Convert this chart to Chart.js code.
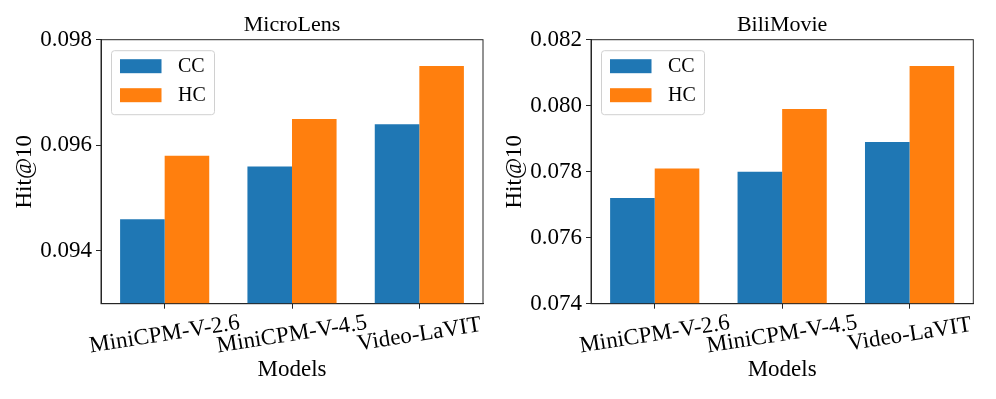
<!DOCTYPE html>
<html>
<head>
<meta charset="utf-8">
<script src="https://cdn.jsdelivr.net/npm/chart.js@4.4.0/dist/chart.umd.min.js"></script>
<style>
  html, body { margin: 0; padding: 0; background: #fff; }
  #wrap { position: relative; width: 996px; height: 399px; }
  canvas { position: absolute; top: 0; }
  #left { left: 0; }
  #right { left: 490px; }
</style>
</head>
<body>
<div id="wrap">
  <canvas id="left" width="490" height="399"></canvas>
  <canvas id="right" width="506" height="399"></canvas>
</div>
<script>
const models = ['MiniCPM-V-2.6', 'MiniCPM-V-4.5', 'Video-LaVIT'];

const microCC = [0.0946, 0.0956, 0.0964];
const microHC = [0.0958, 0.0965, 0.0975];
const microTicks = [0.094, 0.096, 0.098];
const microRange = [0.093, 0.098];

const biliCC = [0.0772, 0.0780, 0.0789];
const biliHC = [0.0781, 0.0799, 0.0812];
const biliTicks = [0.074, 0.076, 0.078, 0.080, 0.082];
const biliRange = [0.074, 0.082];

const serif = "'Liberation Serif', 'Times New Roman', serif";
const frameColor = '#262626';
Chart.defaults.font.family = serif;
Chart.defaults.color = '#000';

// title, frame, rotated x labels and legend box, drawn on top
const extras = {
    id: 'extras',
    afterDraw(chart, args, opts) {
        const ctx = chart.ctx;
        const a = chart.chartArea;
        const xs = chart.scales.x;
        ctx.save();
        ctx.strokeStyle = frameColor;
        ctx.lineWidth = 1;
        ctx.strokeRect(a.left, a.top, a.right - a.left, a.bottom - a.top);

        ctx.fillStyle = '#000';
        ctx.textAlign = 'center';
        ctx.textBaseline = 'middle';
        ctx.font = '22px ' + serif;
        ctx.fillText(opts.title, (a.left + a.right) / 2, 25);

        ctx.font = '23px ' + serif;
        chart.data.labels.forEach((lab, i) => {
            const px = xs.getPixelForTick(i);
            ctx.save();
            ctx.translate(px, a.bottom + 31);
            ctx.rotate(-9 * Math.PI / 180);
            ctx.fillText(lab, 0, 0);
            ctx.restore();
        });

        const lx = a.left + 10.5, ly = a.top + 11;
        ctx.beginPath();
        ctx.roundRect(lx, ly, 103, 64, 3);
        ctx.fillStyle = 'rgba(255,255,255,0.8)';
        ctx.fill();
        ctx.strokeStyle = '#d0d0d0';
        ctx.stroke();
        ctx.font = '20px ' + serif;
        chart.data.datasets.forEach((ds, i) => {
            const cy = ly + 15.5 + i * 29;
            ctx.fillStyle = ds.backgroundColor;
            ctx.fillRect(lx + 8.5, cy - 7, 41.5, 14);
            ctx.fillStyle = '#000';
            ctx.textAlign = 'left';
            ctx.fillText(ds.label, lx + 66.5, cy + 1);
        });
        ctx.restore();
    }
};

function makeChart(id, title, cc, hc, ticks, range, padRight) {
    const ctx = document.getElementById(id).getContext('2d');
    return new Chart(ctx, {
        type: 'bar',
        data: {
            labels: models,
            datasets: [
                { label: 'CC', data: cc, backgroundColor: '#1f77b4' },
                { label: 'HC', data: hc, backgroundColor: '#ff7f0e' }
            ]
        },
        options: {
            responsive: false,
            animation: false,
            devicePixelRatio: 1,
            layout: { padding: { left: 0, right: padRight, top: 39.7, bottom: 0 } },
            datasets: { bar: { categoryPercentage: 0.7, barPercentage: 1.0 } },
            plugins: {
                legend: { display: false },
                tooltip: { enabled: false },
                title: { display: false },
                extras: { title: title }
            },
            scales: {
                x: {
                    type: 'category',
                    offset: true,
                    grid: { display: true, offset: false, drawOnChartArea: false, drawTicks: true, tickLength: 5, color: frameColor },
                    border: { color: frameColor },
                    ticks: { display: false },
                    title: {
                        display: true,
                        text: 'Models',
                        color: '#000',
                        font: { size: 23 },
                        padding: { top: 0, bottom: 15 }
                    },
                    afterFit: s => { s.height = 95.3; }
                },
                y: {
                    min: range[0],
                    max: range[1],
                    afterBuildTicks: s => { s.ticks = ticks.map(v => ({ value: v })); },
                    grid: { drawOnChartArea: false, drawTicks: true, tickLength: 5, color: frameColor },
                    border: { color: frameColor },
                    ticks: {
                        color: '#000',
                        font: { size: 23 },
                        padding: 4,
                        callback: v => v.toFixed(3)
                    },
                    title: {
                        display: true,
                        text: 'Hit@10',
                        color: '#000',
                        font: { size: 23 },
                        padding: { top: 11, bottom: 0 }
                    },
                    afterFit: s => { s.width = 101; }
                }
            }
        },
        plugins: [extras]
    });
}

makeChart('left', 'MicroLens', microCC, microHC, microTicks, microRange, 7);
makeChart('right', 'BiliMovie', biliCC, biliHC, biliTicks, biliRange, 22.7);
</script>
</body>
</html>
